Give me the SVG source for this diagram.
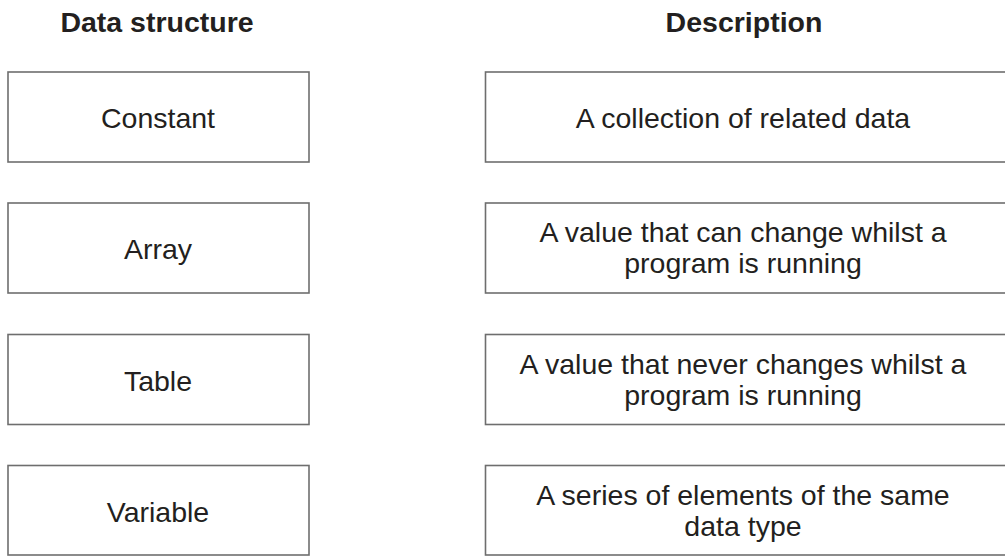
<svg xmlns="http://www.w3.org/2000/svg" width="1005" height="556" viewBox="0 0 1005 556">
<style>
  .box { fill: #ffffff; stroke: #6e6e6e; stroke-width: 1.6; }
  .t { font-family: "Liberation Sans", Arial, sans-serif; font-size: 28.5px; fill: #231f20; text-anchor: middle; }
  .h { font-family: "Liberation Sans", Arial, sans-serif; font-size: 28.5px; font-weight: bold; fill: #231f20; text-anchor: middle; }
</style>
<rect width="1005" height="556" fill="#ffffff"/>
<g id="headers">
  <text class="h" x="157" y="32">Data structure</text>
  <text class="h" x="744" y="32">Description</text>
</g>
<g id="connectors"></g>
<g id="left-constant">
  <rect class="box" x="8" y="72" width="301" height="90"/>
  <text class="t" x="158" y="128">Constant</text>
</g>
<g id="left-array">
  <rect class="box" x="8" y="203" width="301" height="90"/>
  <text class="t" x="158" y="259">Array</text>
</g>
<g id="left-table">
  <rect class="box" x="8" y="334.5" width="301" height="90"/>
  <text class="t" x="158" y="390.5">Table</text>
</g>
<g id="left-variable">
  <rect class="box" x="8" y="465.5" width="301" height="89.5"/>
  <text class="t" x="158" y="521.5">Variable</text>
</g>
<g id="right-collection">
  <rect class="box" x="485.5" y="72" width="530" height="90"/>
  <text class="t" x="743" y="128">A collection of related data</text>
</g>
<g id="right-can-change">
  <rect class="box" x="485.5" y="203" width="530" height="90"/>
  <text class="t" x="743" y="242">A value that can change whilst a</text>
  <text class="t" x="743" y="273">program is running</text>
</g>
<g id="right-never-changes">
  <rect class="box" x="485.5" y="334.5" width="530" height="90"/>
  <text class="t" x="743" y="373.5">A value that never changes whilst a</text>
  <text class="t" x="743" y="404.5">program is running</text>
</g>
<g id="right-series">
  <rect class="box" x="485.5" y="465.5" width="530" height="89.5"/>
  <text class="t" x="743" y="505">A series of elements of the same</text>
  <text class="t" x="743" y="536">data type</text>
</g>
</svg>
